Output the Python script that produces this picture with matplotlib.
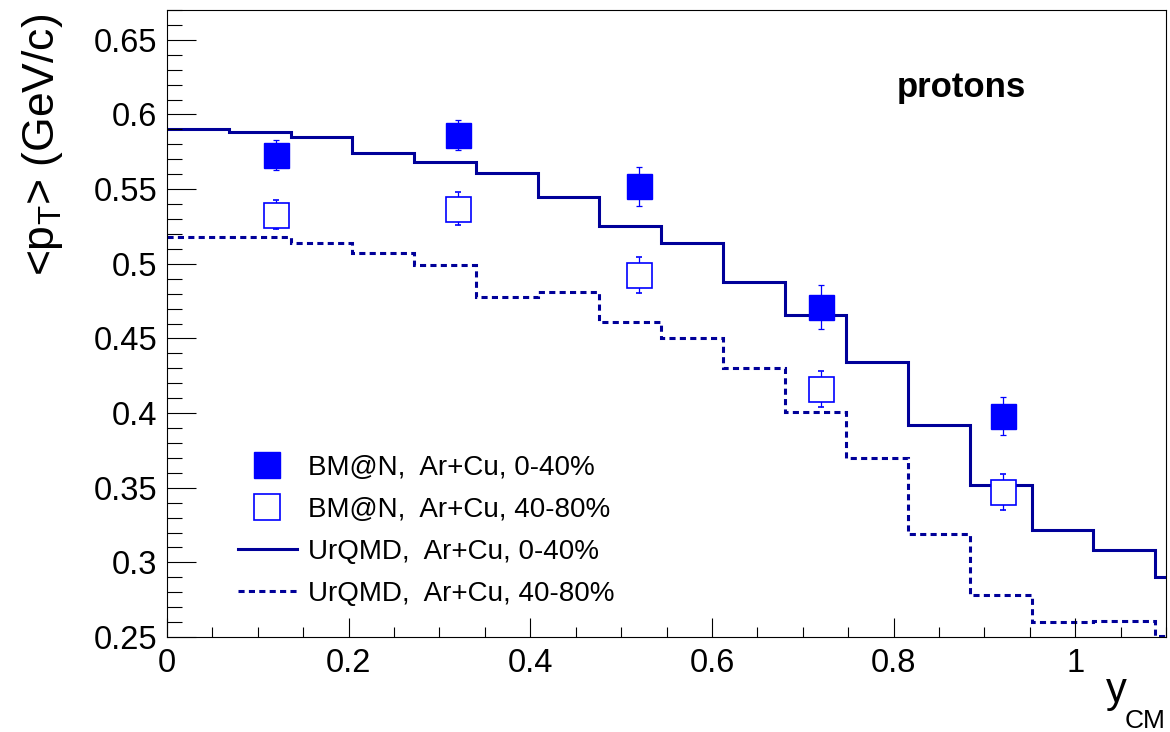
import matplotlib
matplotlib.use('Agg')
import matplotlib.pyplot as plt
from matplotlib.lines import Line2D
from matplotlib.ticker import MultipleLocator, FormatStrFormatter

# data -------------------------------------------------------------------------------
bin_edges = [0.0, 0.068, 0.136, 0.204, 0.272, 0.340, 0.408, 0.476, 0.544, 0.612,
             0.680, 0.748, 0.816, 0.884, 0.952, 1.020, 1.088, 1.156]
urqmd_0_40 = [0.590, 0.588, 0.585, 0.574, 0.568, 0.561, 0.545, 0.525, 0.514,
              0.488, 0.466, 0.434, 0.392, 0.352, 0.322, 0.308, 0.290]
urqmd_40_80 = [0.518, 0.518, 0.514, 0.507, 0.499, 0.478, 0.481, 0.461, 0.450,
               0.430, 0.401, 0.370, 0.319, 0.278, 0.260, 0.261, 0.251]

y_cm = [0.12, 0.32, 0.52, 0.72, 0.92]
bmn_0_40 = [0.573, 0.586, 0.552, 0.471, 0.398]
bmn_0_40_err = [0.010, 0.010, 0.013, 0.015, 0.013]
bmn_40_80 = [0.533, 0.537, 0.4925, 0.416, 0.347]
bmn_40_80_err = [0.010, 0.011, 0.012, 0.012, 0.012]

labels = ['BM@N,  Ar+Cu, 0-40%', 'BM@N,  Ar+Cu, 40-80%',
          'UrQMD,  Ar+Cu, 0-40%', 'UrQMD,  Ar+Cu, 40-80%']

# style ------------------------------------------------------------------------------
plt.rcParams['font.family'] = ['Liberation Sans', 'DejaVu Sans']
plt.rcParams['mathtext.fontset'] = 'custom'
plt.rcParams['mathtext.rm'] = 'Liberation Sans'
plt.rcParams['mathtext.it'] = 'Liberation Sans:italic'

line_col = '#000099'
pt_col = '#0000ff'
dotted = (0, (2, 1.4))

fig = plt.figure(figsize=(11.7, 7.32), dpi=100)
ax = fig.add_axes([167 / 1170, 95 / 732, 999 / 1170, 627 / 732])

ax.stairs(urqmd_0_40, bin_edges, baseline=None, color=line_col, lw=2.2)
ax.stairs(urqmd_40_80, bin_edges, baseline=None, color=line_col, lw=2.2, linestyle=dotted)

ax.errorbar(y_cm, bmn_0_40, yerr=bmn_0_40_err, fmt='s', ms=18, color=pt_col,
            mfc=pt_col, mec=pt_col, elinewidth=0.9, capsize=2, capthick=0.9, zorder=4)
ax.errorbar(y_cm, bmn_40_80, yerr=bmn_40_80_err, fmt='s', ms=18, color=pt_col,
            mfc='white', mec=pt_col, mew=1.2, elinewidth=0.9, capsize=2, capthick=0.9, zorder=4)

ax.set_xlim(0, 1.1)
ax.set_ylim(0.25, 0.67)

ax.xaxis.set_major_locator(MultipleLocator(0.2))
ax.xaxis.set_minor_locator(MultipleLocator(0.05))
ax.yaxis.set_major_locator(MultipleLocator(0.05))
ax.yaxis.set_minor_locator(MultipleLocator(0.01))
ax.xaxis.set_major_formatter(FormatStrFormatter('%g'))
ax.yaxis.set_major_formatter(FormatStrFormatter('%g'))

ax.tick_params(axis='both', which='both', direction='in', top=False, right=False,
               width=0.8, labelsize=23.5)
ax.tick_params(axis='y', which='major', length=21, pad=7)
ax.tick_params(axis='y', which='minor', length=10.8)
ax.tick_params(axis='x', which='major', length=13.7, pad=8)
ax.tick_params(axis='x', which='minor', length=7.2)
for s in ax.spines.values():
    s.set_linewidth(0.8)

# axis titles, ROOT style
ax.text(-0.125, 0.994, r'<p$_{\rm T}$> (GeV/c)', transform=ax.transAxes,
        rotation=90, ha='center', va='top', fontsize=32)
ax.text(0.961, -0.1037, 'y', transform=ax.transAxes,
        ha='right', va='baseline', fontsize=30)
ax.text(1.0, -0.145, 'CM', transform=ax.transAxes,
        ha='right', va='baseline', fontsize=19)
ax.text(0.7307, 0.861, 'protons', transform=ax.transAxes, fontsize=25,
        fontweight='bold', va='baseline')

handles = [
    Line2D([], [], ls='none', marker='s', ms=18.5, color=pt_col, mfc=pt_col),
    Line2D([], [], ls='none', marker='s', ms=18.5, color=pt_col, mfc='white', mew=1.2),
    Line2D([], [], color=line_col, lw=2.2),
    Line2D([], [], color=line_col, lw=2.2, linestyle=dotted),
]
ax.legend(handles, labels, loc='upper left', bbox_to_anchor=(0.071, 0.290),
          frameon=False, fontsize=20, handlelength=2.12, handletextpad=0.4,
          labelspacing=0.57, borderpad=0, borderaxespad=0)

plt.savefig('out.png', dpi=100)
